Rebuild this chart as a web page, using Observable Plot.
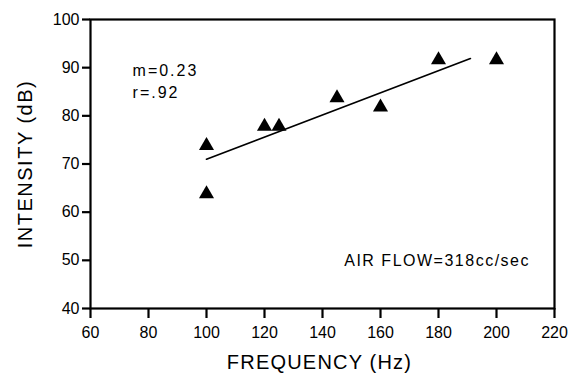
<!DOCTYPE html>
<html>
<head>
<meta charset="utf-8">
<script src="https://cdn.jsdelivr.net/npm/d3@7"></script>
<script src="https://cdn.jsdelivr.net/npm/@observablehq/plot@0.6"></script>
<style>
  html, body { margin: 0; padding: 0; background: #fff; }
  #chart { width: 572px; height: 379px; }
  svg { font-family: "Liberation Sans", Arial, sans-serif; }
</style>
</head>
<body>
<div id="chart"></div>
<script>
// Data
const frequency = [100, 100, 120, 125, 145, 160, 180, 200];
const intensity = [73.8, 63.8, 77.8, 77.8, 83.7, 81.8, 91.6, 91.6];
// Regression line endpoints (m = 0.23)
const fitX = [100, 191];
const fitY = [71.0, 91.9];
const xTicks = [60, 80, 100, 120, 140, 160, 180, 200, 220];
const yTicks = [40, 50, 60, 70, 80, 90, 100];
const notes = [
  {x: 74.5, y: 89.3, text: "m=0.23"},
  {x: 74.5, y: 84.7, text: "r=.92"},
  {x: 147.5, y: 49.8, text: "AIR FLOW=318cc/sec"}
];

const points = frequency.map((f, i) => ({f, v: intensity[i]}));
const fit = fitX.map((f, i) => ({f, v: fitY[i]}));

const chart = Plot.plot({
  width: 572,
  height: 379,
  marginLeft: 90,
  marginRight: 18,
  marginTop: 19,
  marginBottom: 71,
  style: {fontFamily: "Liberation Sans, Arial, sans-serif", color: "#000", background: "#fff"},
  x: {domain: [60, 220], ticks: xTicks},
  y: {domain: [40, 100], ticks: yTicks},
  marks: [
    Plot.frame({stroke: "#000", strokeWidth: 2.2}),
    Plot.axisX({ticks: xTicks, tickSize: 10, tickPadding: 8, fontSize: 16, stroke: "#000", strokeWidth: 2.2, fill: "#000", label: null}),
    Plot.axisY({ticks: yTicks, tickSize: 8, tickPadding: 3, fontSize: 16, stroke: "#000", strokeWidth: 2.2, fill: "#000", label: null}),
    Plot.text(["FREQUENCY (Hz)"], {frameAnchor: "bottom", textAnchor: "middle", dx: -3, dy: 60, fontSize: 20, fill: "#000"}),
    Plot.text(["INTENSITY (dB)"], {frameAnchor: "left", textAnchor: "middle", dx: -65, rotate: -90, fontSize: 20, fill: "#000"}),
    Plot.line(fit, {x: "f", y: "v", stroke: "#000", strokeWidth: 1.7}),
    Plot.dot(points, {x: "f", y: "v", symbol: "triangle", r: 5.6, fill: "#000", stroke: "none"}),
    Plot.text(notes, {x: "x", y: "y", text: "text", textAnchor: "start", fontSize: 16, fill: "#000"})
  ]
});
// letter spacing for the text marks (not a Plot option)
const textGroups = chart.querySelectorAll('g[aria-label="text"]');
const spacings = [1.2, 1.5, 2];
textGroups.forEach((g, i) => g.setAttribute("letter-spacing", spacings[i] ?? 0));
const noteTexts = textGroups[2] ? textGroups[2].querySelectorAll("text") : [];
if (noteTexts[2]) noteTexts[2].setAttribute("letter-spacing", 1.5);
document.getElementById("chart").appendChild(chart);
</script>
</body>
</html>
